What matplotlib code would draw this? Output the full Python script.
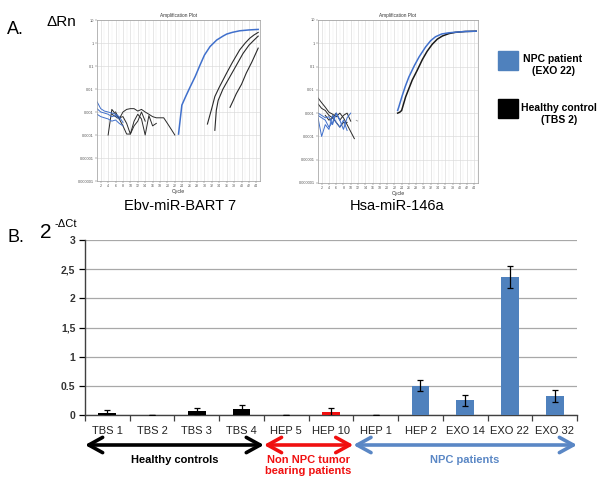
import matplotlib
matplotlib.use('Agg')
import matplotlib.pyplot as plt
import matplotlib.transforms as mtransforms
import numpy as np
from matplotlib.ticker import LogLocator, NullFormatter

plt.rcParams['font.family'] = ['Liberation Sans', 'DejaVu Sans']

# ---------------- data: panel A (amplification curves, dRn vs cycle) -------------
# Ebv-miR-BART 7
bart_npc_cycles = [23, 23.9, 25, 26.1, 27.5, 28.8, 30, 31.5, 33.3, 35, 36, 37.5, 39.5, 42, 44.5]
bart_npc_drn = [0.00011, 0.002, 0.005, 0.012, 0.035, 0.11, 0.3, 0.7, 1.35, 2.0, 2.45, 2.9, 3.4, 3.7, 3.9]
bart_ctrl1_cycles = [30.8, 32.0, 32.8, 34, 36, 37.5, 39.5, 41, 42.2, 43.3, 44.5]
bart_ctrl1_drn = [0.0003, 0.0015, 0.0047, 0.012, 0.05, 0.14, 0.5, 1.0, 1.6, 2.2, 2.9]
bart_ctrl2_cycles = [32.8, 33.2, 33.7, 35, 36.9, 38.5, 40.4, 42, 43.3, 44.5]
bart_ctrl2_drn = [0.00016, 0.0012, 0.0032, 0.01, 0.035, 0.1, 0.35, 0.8, 1.3, 2.0]
bart_ctrl3_cycles = [36.9, 37.7, 38.6, 40, 41.3, 42.8, 44.5]
bart_ctrl3_drn = [0.0016, 0.003, 0.0063, 0.016, 0.05, 0.15, 0.6]
bart_noise_blue = [
    ([1, 2, 3, 4, 5, 6, 7, 8], [0.0028, 0.0014, 0.0011, 0.001, 0.0009, 0.0008, 0.00063, 0.00035]),
    ([1, 2, 3, 4, 5, 6, 7], [0.0014, 0.001, 0.0009, 0.0008, 0.00063, 0.0007, 0.0005]),
    ([1, 2, 3, 4, 5, 6, 7, 8], [0.0008, 0.00063, 0.00056, 0.0005, 0.0004, 0.00045, 0.00032, 0.00025]),
]
bart_noise_black = [
    ([4, 5, 6, 7, 8, 9, 10, 11, 12, 13, 14, 15, 16, 17],
     [0.0001, 0.0013, 0.0008, 0.00056, 0.00063, 0.00032, 0.00011, 0.0004, 0.0008, 0.0005, 0.0001, 0.0007, 0.00025, 0.00032]),
    ([5, 6, 7, 8, 9, 10, 11, 12, 13, 14, 15, 16, 17, 18, 19, 20, 21, 22],
     [0.0008, 0.00063, 0.0005, 0.001, 0.0013, 0.0014, 0.0014, 0.0011, 0.0013, 0.001, 0.0008, 0.00063, 0.00056, 0.00056, 0.00056, 0.00032, 0.00018, 0.0001]),
    ([6, 7, 8, 9, 10, 11, 12, 13, 14],
     [0.001, 0.0005, 0.00025, 0.00011, 0.00011, 0.00025, 0.0004, 0.001, 0.0004]),
]

# Hsa-miR-146a
mir146_npc_cycles = [22.9, 23.2, 24.2, 25, 26, 27.5, 28.8, 30.6, 32, 33.3, 35, 36.9, 39, 41.5, 44.5]
mir146_npc_drn = [0.0013, 0.0018, 0.0059, 0.014, 0.036, 0.11, 0.26, 0.7, 1.3, 1.9, 2.5, 2.8, 3.0, 3.2, 3.3]
mir146_ctrl_cycles = [22.9, 23.5, 24, 25.1, 26.9, 28.3, 29.7, 31, 32.4, 33.8, 35.2, 37, 38.8, 41.5, 44.5]
mir146_ctrl_drn = [0.001, 0.0011, 0.0013, 0.005, 0.026, 0.07, 0.2, 0.45, 0.9, 1.5, 2.05, 2.6, 2.95, 3.2, 3.3]
mir146_noise_blue = [
    ([1, 2, 3, 4, 5, 6, 7, 8, 9, 10], [0.0008, 0.00063, 0.0005, 0.00025, 0.0004, 0.001, 0.0005, 0.0002, 0.00063, 0.001]),
    ([1, 2, 3, 4, 5, 6, 7, 8, 9], [0.00063, 0.0001, 0.00032, 0.0002, 0.0008, 0.0004, 0.00025, 0.0005, 0.00018]),
    ([1, 2, 3, 4, 5, 6, 7], [0.001, 0.0008, 0.00063, 0.0007, 0.00032, 0.001, 0.0005]),
]
mir146_noise_black = [
    ([1, 2, 3, 4, 5, 6, 7, 8, 9, 10, 11], [0.0045, 0.0028, 0.0018, 0.0011, 0.0009, 0.0007, 0.001, 0.00063, 0.00032, 0.00016, 0.00008]),
    ([1, 2, 3, 4, 5, 6, 7, 8, 9, 10], [0.0025, 0.0016, 0.0013, 0.0008, 0.00063, 0.001, 0.0005, 0.0008, 0.001, 0.00045]),
    ([3, 4, 5, 6, 7, 8, 9], [0.0008, 0.0005, 0.00063, 0.0004, 0.00025, 0.0004, 0.0004]),
]
mir146_noise_gray = ([11.4, 12.0], [0.0005, 0.00045])

amp_yticks = [10, 1, 0.1, 0.01, 0.001, 0.0001, 0.00001, 0.000001]
amp_ylabels = ['10', '1', '0.1', '0.01', '0.001', '0.0001', '0.00001', '0.000001']
amp_xticks = list(range(2, 45, 2))

# ---------------- data: panel B (2^-dCt bars) -----------------------------------
samples = ['TBS 1', 'TBS 2', 'TBS 3', 'TBS 4', 'HEP 5', 'HEP 10',
           'HEP 1', 'HEP 2', 'EXO 14', 'EXO 22', 'EXO 32']
values = [0.035, 0.005, 0.075, 0.098, 0.005, 0.05, 0.005, 0.50, 0.25, 2.37, 0.33]
errors = [0.055, 0.0, 0.05, 0.07, 0.0, 0.075, 0.0, 0.095, 0.095, 0.19, 0.105]
groups = ['k', 'k', 'k', 'k', 'r', 'r', 'b', 'b', 'b', 'b', 'b']
bar_yticks = [0, 0.5, 1, 1.5, 2, 2.5, 3]
bar_ylabels = ['0', '0.5', '1', '1,5', '2', '2,5', '3']
group_names = ['Healthy controls', 'Non NPC tumor\nbearing patients', 'NPC patients']

BLUE = '#4F81BD'
LINE_BLUE = '#4070CC'
RED = '#F01010'
ARROW_BLUE = '#5A87C5'
group_color = {'k': '#000000', 'r': RED, 'b': BLUE}

fig = plt.figure(figsize=(6, 4.8), dpi=100)


def amp_axes(rect):
    ax = fig.add_axes(rect)
    ax.set_yscale('log')
    ax.set_ylim(1e-6, 10)
    ax.set_xlim(1, 45)
    ax.set_xticks(amp_xticks)
    ax.set_xticklabels([str(c) for c in amp_xticks], fontsize=2.6)
    ax.set_xticks(range(1, 46), minor=True)
    ax.set_yticks(amp_yticks)
    ax.set_yticklabels(amp_ylabels, fontsize=2.8)
    ax.yaxis.set_minor_locator(LogLocator(base=10, subs=np.arange(2, 10)))
    ax.yaxis.set_minor_formatter(NullFormatter())
    ax.grid(which='major', color='#dadada', lw=0.45)
    ax.grid(which='minor', color='#ececec', lw=0.35)
    ax.tick_params(which='both', length=1.2, width=0.3, pad=1, colors='#555555')
    ax.tick_params(which='minor', length=0)
    for s in ax.spines.values():
        s.set_color('#9a9a9a')
        s.set_linewidth(0.5)
    ax.set_title('Amplification Plot', fontsize=3.4, pad=2, color='#333333')
    ax.set_xlabel('Cycle', fontsize=3.8, labelpad=1, color='#333333')
    ax.set_axisbelow(True)
    return ax


# left amplification plot
ax1 = amp_axes([0.1617, 0.6229, 0.2717, 0.3354])
for cx, cy in bart_noise_black:
    ax1.plot(cx, cy, color='#2a2a2a', lw=0.7)
for cx, cy in bart_noise_blue:
    ax1.plot(cx, cy, color=LINE_BLUE, lw=0.7)
ax1.plot(bart_ctrl1_cycles, bart_ctrl1_drn, color='#2a2a2a', lw=0.8)
ax1.plot(bart_ctrl2_cycles, bart_ctrl2_drn, color='#2a2a2a', lw=0.8)
ax1.plot(bart_ctrl3_cycles, bart_ctrl3_drn, color='#2a2a2a', lw=0.8)
ax1.plot(bart_npc_cycles, bart_npc_drn, color=LINE_BLUE, lw=1.1)

# right amplification plot
ax2 = amp_axes([0.530, 0.6188, 0.2667, 0.3396])
for cx, cy in mir146_noise_black:
    ax2.plot(cx, cy, color='#2a2a2a', lw=0.7)
for cx, cy in mir146_noise_blue:
    ax2.plot(cx, cy, color=LINE_BLUE, lw=0.7)
ax2.plot(mir146_noise_gray[0], mir146_noise_gray[1], color='#999999', lw=0.6, ls='--')
ax2.plot(mir146_ctrl_cycles, mir146_ctrl_drn, color='#1a1a1a', lw=1.1)
ax2.plot(mir146_npc_cycles, mir146_npc_drn, color=LINE_BLUE, lw=1.1)

# panel A texts
fig.text(0.012, 1 - 29 / 480, 'A.', fontsize=13, va='center', ha='left')
fig.text(0.077, 1 - 22 / 480, '\u0394Rn', fontsize=11, va='center', ha='left')
fig.text(180 / 600, 1 - 206 / 480, 'Ebv-miR-BART 7', fontsize=10.5, ha='center', va='center')
fig.text(397 / 600, 1 - 206 / 480, 'Hsa-miR-146a', fontsize=10.5, ha='center', va='center')

# legend
fig.patches.append(plt.Rectangle((498 / 600, 1 - 70 / 480), 20 / 600, 19 / 480,
                                 transform=fig.transFigure, color=BLUE, figure=fig))
fig.patches.append(plt.Rectangle((498 / 600, 1 - 118 / 480), 20 / 600, 19 / 480,
                                 transform=fig.transFigure, color='black', figure=fig))
fig.text(553 / 600, 1 - 65 / 480, 'NPC patient\n(EXO 22)', fontsize=7.5, fontweight='bold',
         ha='center', va='center', linespacing=1.2)
fig.text(559 / 600, 1 - 114 / 480, 'Healthy control\n(TBS 2)', fontsize=7.5, fontweight='bold',
         ha='center', va='center', linespacing=1.2)

# ---------------- panel B ------------------------------------------------------
axb = fig.add_axes([85 / 600, 1 - 415 / 480, 492 / 600, 175 / 480])
x = np.arange(len(samples))
axb.bar(x, values, width=0.4, color=[group_color[g] for g in groups], zorder=3)
axb.errorbar(x, values, yerr=errors, fmt='none', ecolor='black', elinewidth=0.9,
             capsize=2.2, capthick=0.9, zorder=4)
axb.set_xlim(-0.5, len(samples) - 0.5)
axb.set_ylim(0, 3)
axb.set_yticks(bar_yticks)
axb.set_yticklabels(bar_ylabels, fontsize=7.5, fontweight='bold', color='#333333')
axb.yaxis.grid(True, color='#a8a8a8', lw=0.9, zorder=0)
axb.set_axisbelow(True)
axb.set_xticks(np.arange(-0.5, len(samples), 1.0))
axb.set_xticklabels([])
axb.set_xticks(x, minor=True)
axb.set_xticklabels(samples, minor=True, fontsize=8, color='#222222')
axb.tick_params(axis='x', which='major', length=4, width=0.9, direction='out', colors='#404040')
axb.tick_params(axis='x', which='minor', length=0, pad=8)
axb.tick_params(axis='y', length=4, width=0.9, pad=3)
for s in ['top', 'right']:
    axb.spines[s].set_visible(False)
for s in ['left', 'bottom']:
    axb.spines[s].set_color('#404040')
    axb.spines[s].set_linewidth(1.0)

# group arrows
arrow_y = 1 - 445 / 480
spans = [(-0.5, 3.5, 'black'), (3.5, 5.5, RED), (5.5, 10.5, ARROW_BLUE)]
for (x0, x1, col) in spans:
    axb.annotate('', xy=(x1, arrow_y), xytext=(x0, arrow_y),
                 xycoords=('data', 'figure fraction'), textcoords=('data', 'figure fraction'),
                 annotation_clip=False,
                 arrowprops=dict(arrowstyle='<->,head_length=1.0,head_width=0.55', lw=2.6,
                                 color=col, shrinkA=0, shrinkB=0, mutation_scale=10))
label_cols = ['black', RED, ARROW_BLUE]
blend = mtransforms.blended_transform_factory(axb.transData, fig.transFigure)
for (x0, x1, _), name, col in zip(spans, group_names, label_cols):
    axb.text((x0 + x1) / 2, 1 - 455 / 480, name, transform=blend,
             ha='center', va='top', fontsize=8, fontweight='bold', color=col,
             linespacing=1.15)

# panel B texts
fig.text(0.012, 1 - 237 / 480, 'B.', fontsize=13, va='center', ha='left')
fig.text(40 / 600, 1 - 233 / 480, '2', fontsize=15, va='center', ha='left')
fig.text(55 / 600, 1 - 224 / 480, '-\u0394Ct', fontsize=8, va='center', ha='left')

fig.savefig('out.png', dpi=100)
